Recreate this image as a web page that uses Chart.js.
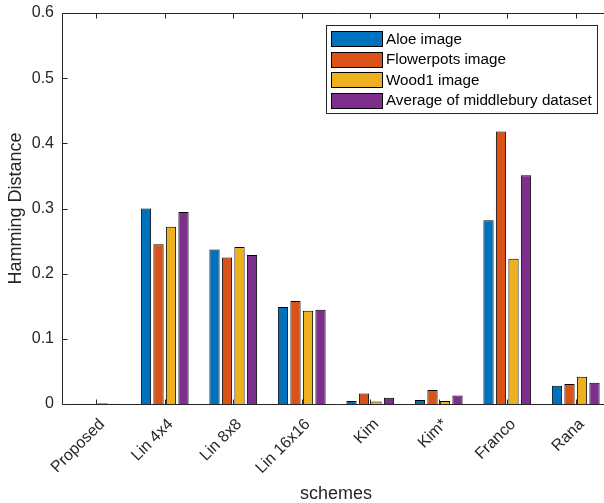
<!DOCTYPE html>
<html>
<head>
<meta charset="utf-8">
<script src="https://cdn.jsdelivr.net/npm/chart.js@4/dist/chart.umd.min.js"></script>
<style>
html,body{margin:0;padding:0;background:#fff;overflow:hidden;width:604px;height:503px;}
canvas{display:block;}
</style>
</head>
<body>
<canvas id="c" width="612" height="503" style="width:612px;height:503px"></canvas>
<script>
const categories = ['Proposed', 'Lin 4x4', 'Lin 8x8', 'Lin 16x16', 'Kim', 'Kim*', 'Franco', 'Rana'];
const seriesNames = ['Aloe image', 'Flowerpots image', 'Wood1 image', 'Average of middlebury dataset'];
const aloe       = [0.0005, 0.300, 0.237, 0.149, 0.0045, 0.006, 0.282, 0.028];
const flowerpots = [0.0005, 0.245, 0.225, 0.158, 0.016, 0.0215, 0.418, 0.0305];
const wood1      = [0.001, 0.272, 0.241, 0.143, 0.004, 0.0045, 0.223, 0.042];
const average    = [0.0005, 0.2945, 0.2285, 0.1445, 0.0097, 0.0132, 0.351, 0.0325];
const yTicks = [0, 0.1, 0.2, 0.3, 0.4, 0.5, 0.6];
const colors = ['#0072BD', '#D95319', '#EDB120', '#7E2F8E'];

const FONT = '"Liberation Sans", Arial, Helvetica, sans-serif';
const AX = '#262626';

const values = [aloe, flowerpots, wood1, average];

const axesPlugin = {
  id: 'matlabAxes',
  afterDatasetsDraw(chart) {
    const ctx = chart.ctx, a = chart.chartArea;
    const xs = chart.scales.x, ys = chart.scales.y;
    ctx.save();
    ctx.strokeStyle = AX;
    ctx.lineWidth = 1;
    ctx.beginPath();
    const L = Math.round(a.left) + 0.5, T = Math.round(a.top) + 0.5, B = Math.round(a.bottom) + 0.5, R = a.right + 5;
    ctx.moveTo(L, B); ctx.lineTo(L, T); ctx.lineTo(R, T);
    ctx.moveTo(L, B); ctx.lineTo(R, B);
    yTicks.forEach(v => {
      const y = Math.round(ys.getPixelForValue(v)) + 0.5;
      ctx.moveTo(L, y); ctx.lineTo(L + 5, y);
    });
    categories.forEach((c, i) => {
      const x = Math.round(xs.getPixelForValue(i)) + 0.5;
      ctx.moveTo(x, T); ctx.lineTo(x, T + 5);
      ctx.moveTo(x, B); ctx.lineTo(x, B - 5);
    });
    ctx.stroke();

    // legend box
    const lx = 326.5, ly = 25.5, lw = 271, lh = 88;
    ctx.fillStyle = '#fff';
    ctx.fillRect(lx, ly, lw, lh);
    ctx.strokeStyle = AX;
    ctx.strokeRect(lx, ly, lw, lh);
    ctx.font = '15.2px ' + FONT;
    ctx.textBaseline = 'middle';
    ctx.textAlign = 'left';
    chart.data.datasets.forEach((ds, i) => {
      const cy = 38.5 + i * 20.6;
      ctx.fillStyle = ds.backgroundColor;
      ctx.fillRect(331.5, Math.round(cy - 7.5) + 0.5, 51, 15);
      ctx.strokeStyle = '#000';
      ctx.strokeRect(331.5, Math.round(cy - 7.5) + 0.5, 51, 15);
      ctx.fillStyle = '#000';
      ctx.fillText(ds.label, 386, cy + 1);
    });
    ctx.restore();
  }
};

new Chart(document.getElementById('c'), {
  type: 'bar',
  data: {
    labels: categories,
    datasets: seriesNames.map((n, i) => ({
      label: n,
      data: values[i],
      backgroundColor: colors[i],
      borderColor: '#000',
      borderWidth: 1,
      barPercentage: 0.82,
      categoryPercentage: 0.73
    }))
  },
  options: {
    responsive: false,
    animation: false,
    layout: { padding: { left: 0, right: 2, top: 13, bottom: 0 } },
    plugins: { legend: { display: false }, tooltip: { enabled: false } },
    scales: {
      x: {
        grid: { display: false, drawTicks: false },
        border: { display: false },
        ticks: {
          color: AX,
          font: { family: FONT, size: 16 },
          minRotation: 45, maxRotation: 45,
          padding: 11,
          labelOffset: 6,
          autoSkip: false
        },
        title: {
          display: true, text: 'schemes', color: AX,
          font: { family: FONT, size: 18, lineHeight: 1.0 },
          padding: { top: 1, bottom: 0 }
        },
        afterFit(s) { s.height = 99; s.paddingLeft = 0; s.paddingRight = 0; }
      },
      y: {
        min: 0, max: 0.6,
        grid: { display: false, drawTicks: false },
        border: { display: false },
        afterBuildTicks(s) { s.ticks = yTicks.map(v => ({ value: v })); },
        ticks: {
          color: AX,
          font: { family: FONT, size: 16 },
          padding: 8,
          callback: v => v === 0 ? '0' : v.toFixed(1)
        },
        title: {
          display: true, text: 'Hamming Distance', color: AX,
          font: { family: FONT, size: 18 },
          padding: { top: 5, bottom: 0 }
        },
        afterFit(s) { s.width = 62; s.paddingTop = 0; s.paddingBottom = 0; }
      }
    }
  },
  plugins: [axesPlugin]
});
</script>
</body>
</html>
